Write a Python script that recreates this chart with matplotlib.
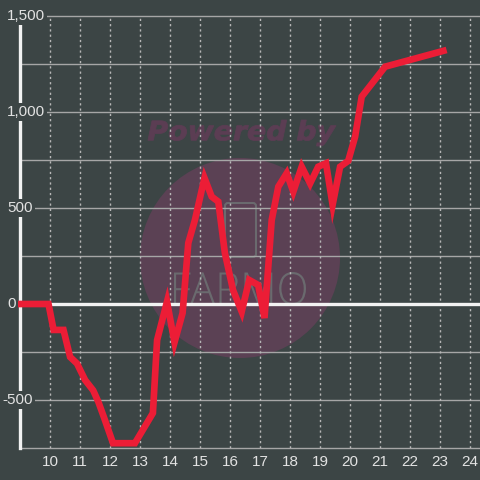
import numpy as np
import matplotlib
matplotlib.use('Agg')
import matplotlib.pyplot as plt
from matplotlib.patches import Circle, PathPatch, FancyBboxPatch
from matplotlib.textpath import TextPath
from matplotlib.font_manager import FontProperties
from matplotlib.transforms import Affine2D

# data: hour of day vs cumulative value
hours = [8.9, 9.95, 10.12, 10.45, 10.67, 10.9, 11.17, 11.44, 11.61, 11.83,
         12.1, 12.83, 13.43, 13.57, 13.9, 14.15, 14.42, 14.61, 14.83, 15.15,
         15.39, 15.61, 15.83, 16.1, 16.39, 16.64, 16.94, 17.15, 17.39, 17.61,
         17.89, 18.11, 18.39, 18.67, 18.94, 19.2, 19.42, 19.67, 19.94, 20.17,
         20.39, 21.17, 23.22]
values = [0, 0, -135, -135, -276, -310, -396, -450, -509, -604,
          -725, -725, -568, -188, 12, -200, -47, 318, 437, 656,
          559, 533, 265, 73, -40, 125, 99, -73, 437, 611,
          681, 585, 715, 628, 715, 733, 516, 715, 745, 871,
          1080, 1236, 1323]

x_ticks = list(range(10, 25))
y_ticks = [1500, 1000, 500, 0, -500]
y_labels = ['1,500', '1,000', '500', '0', '-500']
y_grid = [1250, 750, 250, -250, -750]

BG = '#3c4545'
RED = '#ec1d36'
GRID = '#a6a6a6'
TXT = '#e2e2e2'
WM = '#5b4154'

W = H = 480
fig = plt.figure(figsize=(4.8, 4.8), dpi=100, facecolor=BG)

# background layer in pixel coords for the watermark
bg = fig.add_axes([0, 0, 1, 1], zorder=0)
bg.set_xlim(0, W)
bg.set_ylim(H, 0)
bg.axis('off')
bg.add_patch(Circle((240, 258), 100, color=WM, lw=0))


def fit_text(ax, s, x0, y0, x1, y1, prop, **kw):
    tp = TextPath((0, 0), s, size=10, prop=prop)
    bb = tp.get_extents()
    tr = (Affine2D().translate(-bb.x0, -bb.y1)
          .scale((x1 - x0) / bb.width, -(y1 - y0) / bb.height)
          .translate(x0, y0))
    ax.add_patch(PathPatch(tr.transform_path(tp), **kw))


fit_text(bg, 'Powered by', 148, 120, 336, 146,
         FontProperties(family='DejaVu Sans', weight='bold', style='italic'),
         facecolor='#5b3d53', edgecolor='#5b3d53', lw=0.6)
fit_text(bg, 'FARMO', 174, 272, 306, 305,
         FontProperties(family='Open Sans', weight='light'),
         color='#6a6a6e', lw=0)
bg.add_patch(FancyBboxPatch((225, 203), 31, 54, boxstyle='round,pad=0,rounding_size=3',
                            facecolor='none', edgecolor='#6a6a6e', lw=1.5))

# main chart
ax = fig.add_axes([20 / W, 32 / H, 460 / W, 432 / H], zorder=1)
ax.set_facecolor('none')
ax.set_xlim(9, 9 + 460 / 30)
ax.set_ylim(-750, 1500)
for sp in ax.spines.values():
    sp.set_visible(False)

for v in y_grid + [1500, 1000, 500, -500]:
    ax.axhline(v, color=GRID, lw=1.0, zorder=1, clip_on=False)
for xv in x_ticks:
    ax.axvline(xv, color='#b8b8b8', lw=1.0, ls=(0, (1.6, 2.2)), zorder=1)
ax.axhline(0, color='#f2f2f2', lw=2.4, zorder=2)
ax.axvline(9, color='#f2f2f2', lw=2.4, zorder=2, clip_on=False)

ax.plot(hours, values, color=RED, lw=4.8, solid_joinstyle='miter',
        solid_capstyle='butt', zorder=3, clip_on=False)

# y labels drawn inside, with background boxes over the axis line
for v, lab in zip(y_ticks, y_labels):
    ax.text(-13 / 460 if not lab.startswith('-') else -18 / 460, v, lab,
            transform=ax.get_yaxis_transform(), ha='left', va='center',
            fontsize=11, family='Liberation Sans', color=TXT, zorder=4,
            bbox=dict(boxstyle='square,pad=0.15', facecolor=BG, edgecolor='none'))
ax.set_yticks([])

ax.set_xticks(x_ticks)
ax.set_xticklabels([str(t) for t in x_ticks], fontsize=11,
                   family='Liberation Sans', color=TXT)
ax.tick_params(axis='x', length=0, pad=5)

fig.savefig('out.png', dpi=100, facecolor=BG)
